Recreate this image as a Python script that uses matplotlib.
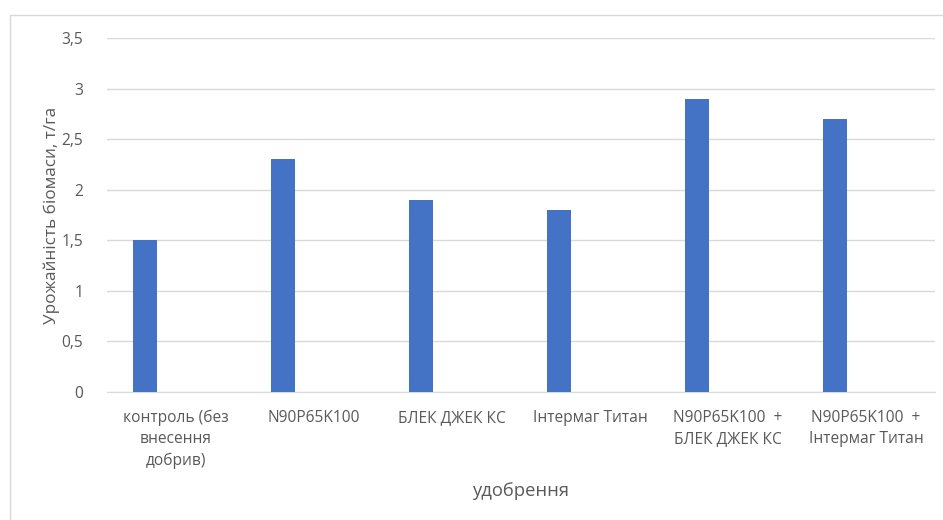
import matplotlib.pyplot as plt
import numpy as np
from matplotlib.patches import Rectangle

# Data
categories = ['контроль (без\nвнесення\nдобрив)', 'N90P65K100', 'БЛЕК ДЖЕК КС',
              'Інтермаг Титан', 'N90P65K100  +\nБЛЕК ДЖЕК КС', 'N90P65K100  +\nІнтермаг Титан']
yields = [1.5, 2.3, 1.9, 1.8, 2.9, 2.7]
y_ticks = [0, 0.5, 1, 1.5, 2, 2.5, 3, 3.5]
y_tick_labels = ['0', '0,5', '1', '1,5', '2', '2,5', '3', '3,5']

plt.rcParams['font.family'] = ['Open Sans', 'DejaVu Sans']
TEXT = '#595959'
GRID = '#d9d9d9'

fig = plt.figure(figsize=(9.43, 5.2), dpi=100)
ax = fig.add_axes([107/943, 1 - 392/520, (935 - 107)/943, (392 - 38)/520])

# chart area frame
fig.patches.append(Rectangle((10/943, -0.1), 1.2, 1 - 15/520 + 0.1,
                             transform=fig.transFigure, fill=False,
                             edgecolor=GRID, lw=1))

x = np.arange(len(categories))
ax.bar(x - 0.227, yields, width=0.174, color='#4472c4', zorder=3)

ax.set_xlim(-0.5, len(categories) - 0.5)
ax.set_ylim(0, 3.5)
ax.set_yticks(y_ticks)
ax.set_yticklabels(y_tick_labels, fontsize=11.2, color=TEXT)
ax.set_xticks(x)
ax.set_xticklabels(categories, fontsize=11.2, color=TEXT, linespacing=1.4, va='top')

ax.grid(axis='y', color=GRID, lw=1, zorder=0)
ax.tick_params(length=0)
ax.tick_params(axis='x', pad=13)
ax.tick_params(axis='y', pad=17)
for s in ['top', 'right', 'left']:
    ax.spines[s].set_visible(False)
ax.spines['bottom'].set_color(GRID)

ax.set_ylabel('Урожайність біомаси, т/га', fontsize=12.3, color=TEXT, labelpad=1)
ax.set_xlabel('удобрення', fontsize=13.2, color=TEXT, labelpad=10)

fig.savefig('out.png', dpi=100)
